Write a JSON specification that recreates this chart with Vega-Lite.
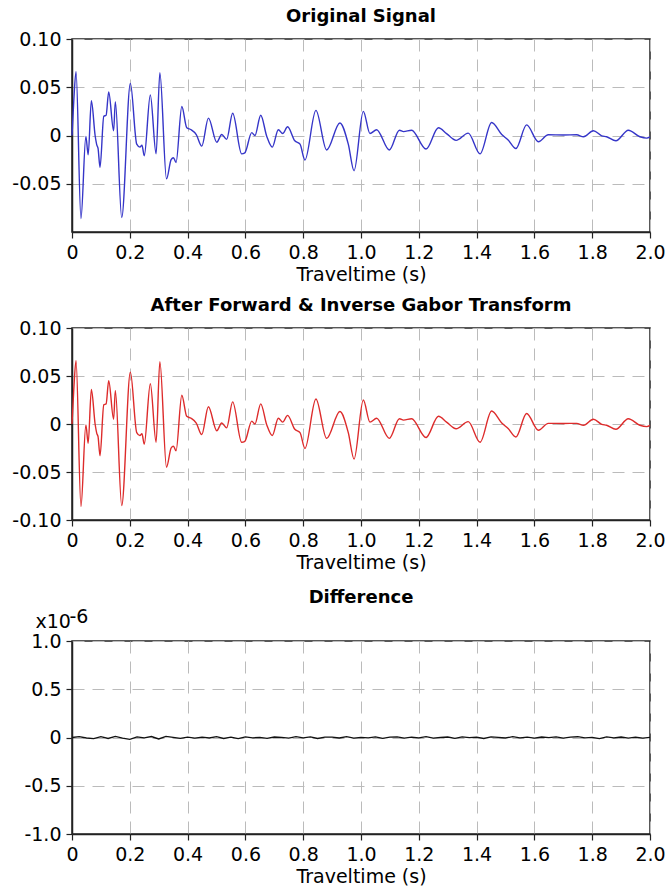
{
  "$schema": "https://vega.github.io/schema/vega-lite/v6.json",
  "padding": {"left": 11, "top": 7, "right": 0, "bottom": 0},
  "background": "white",
  "datasets": {
    "sig": [
      {"t": 0, "v": 0}, {"t": 0.006, "v": 0.035}, {"t": 0.014, "v": 0.066}, {"t": 0.031, "v": -0.086},
      {"t": 0.048, "v": -0.001}, {"t": 0.056, "v": -0.02}, {"t": 0.067, "v": 0.036}, {"t": 0.08, "v": 0.0},
      {"t": 0.086, "v": -0.01}, {"t": 0.09, "v": -0.013}, {"t": 0.097, "v": -0.033}, {"t": 0.11, "v": 0.02},
      {"t": 0.118, "v": 0.021}, {"t": 0.127, "v": 0.045}, {"t": 0.144, "v": 0.005}, {"t": 0.15, "v": 0.035},
      {"t": 0.172, "v": -0.085}, {"t": 0.202, "v": 0.054}, {"t": 0.224, "v": -0.009}, {"t": 0.235, "v": -0.012},
      {"t": 0.242, "v": -0.01}, {"t": 0.25, "v": -0.021}, {"t": 0.271, "v": 0.042}, {"t": 0.291, "v": -0.019},
      {"t": 0.304, "v": 0.065}, {"t": 0.327, "v": -0.045}, {"t": 0.343, "v": -0.025}, {"t": 0.351, "v": -0.023},
      {"t": 0.36, "v": -0.028}, {"t": 0.38, "v": 0.03}, {"t": 0.397, "v": 0.008}, {"t": 0.412, "v": 0.006},
      {"t": 0.43, "v": 0.001}, {"t": 0.449, "v": -0.011}, {"t": 0.472, "v": 0.018}, {"t": 0.501, "v": -0.007},
      {"t": 0.518, "v": 0.001}, {"t": 0.535, "v": -0.004}, {"t": 0.556, "v": 0.023}, {"t": 0.587, "v": -0.019},
      {"t": 0.598, "v": -0.018}, {"t": 0.622, "v": 0.003}, {"t": 0.633, "v": 0.0}, {"t": 0.653, "v": 0.021},
      {"t": 0.674, "v": -0.001}, {"t": 0.693, "v": -0.012}, {"t": 0.714, "v": 0.006}, {"t": 0.729, "v": 0.002},
      {"t": 0.746, "v": 0.009}, {"t": 0.771, "v": -0.0055}, {"t": 0.789, "v": -0.009}, {"t": 0.806, "v": -0.0255},
      {"t": 0.844, "v": 0.026}, {"t": 0.881, "v": -0.015}, {"t": 0.927, "v": 0.013}, {"t": 0.956, "v": -0.009},
      {"t": 0.976, "v": -0.0365}, {"t": 1.008, "v": 0.025}, {"t": 1.031, "v": 0.002}, {"t": 1.054, "v": 0.006},
      {"t": 1.098, "v": -0.015}, {"t": 1.133, "v": 0.0055}, {"t": 1.147, "v": 0.004}, {"t": 1.175, "v": 0.0055},
      {"t": 1.225, "v": -0.014}, {"t": 1.268, "v": 0.008}, {"t": 1.296, "v": 0.002}, {"t": 1.329, "v": -0.005},
      {"t": 1.371, "v": 0.0025}, {"t": 1.412, "v": -0.019}, {"t": 1.452, "v": 0.0135}, {"t": 1.487, "v": 0.001},
      {"t": 1.51, "v": -0.005}, {"t": 1.536, "v": -0.0135}, {"t": 1.573, "v": 0.011}, {"t": 1.614, "v": -0.0065},
      {"t": 1.648, "v": 0.0007}, {"t": 1.7, "v": 0.0005}, {"t": 1.746, "v": 0.0007}, {"t": 1.77, "v": -0.0013},
      {"t": 1.804, "v": 0.005}, {"t": 1.833, "v": -0.0003}, {"t": 1.85, "v": -0.0013}, {"t": 1.882, "v": -0.0055},
      {"t": 1.925, "v": 0.0055}, {"t": 1.965, "v": -0.0013}, {"t": 1.989, "v": -0.0027}, {"t": 2.0, "v": -0.0015}
    ],
    "diff": [
      {"t": 0, "v": 0.0}, {"t": 0.025, "v": 0.01}, {"t": 0.05, "v": -0.005}, {"t": 0.075, "v": -0.012},
      {"t": 0.1, "v": 0.008}, {"t": 0.125, "v": -0.01}, {"t": 0.15, "v": 0.012}, {"t": 0.175, "v": -0.006},
      {"t": 0.2, "v": -0.02}, {"t": 0.225, "v": 0.006}, {"t": 0.25, "v": -0.004}, {"t": 0.275, "v": 0.01},
      {"t": 0.3, "v": -0.015}, {"t": 0.325, "v": 0.012}, {"t": 0.35, "v": 0.002}, {"t": 0.375, "v": -0.008},
      {"t": 0.4, "v": 0.004}, {"t": 0.425, "v": -0.006}, {"t": 0.45, "v": 0.003}, {"t": 0.475, "v": -0.005},
      {"t": 0.5, "v": 0.008}, {"t": 0.525, "v": -0.01}, {"t": 0.55, "v": 0.004}, {"t": 0.575, "v": -0.012},
      {"t": 0.6, "v": 0.006}, {"t": 0.625, "v": -0.003}, {"t": 0.65, "v": 0.002}, {"t": 0.675, "v": -0.008},
      {"t": 0.7, "v": 0.005}, {"t": 0.725, "v": 0.002}, {"t": 0.75, "v": -0.006}, {"t": 0.775, "v": 0.008},
      {"t": 0.8, "v": -0.004}, {"t": 0.825, "v": 0.006}, {"t": 0.85, "v": -0.01}, {"t": 0.875, "v": 0.004},
      {"t": 0.9, "v": 0.003}, {"t": 0.925, "v": -0.005}, {"t": 0.95, "v": 0.009}, {"t": 0.975, "v": -0.007},
      {"t": 1.0, "v": 0.002}, {"t": 1.025, "v": -0.004}, {"t": 1.05, "v": 0.007}, {"t": 1.075, "v": -0.009},
      {"t": 1.1, "v": 0.003}, {"t": 1.125, "v": 0.006}, {"t": 1.15, "v": -0.006}, {"t": 1.175, "v": 0.004},
      {"t": 1.2, "v": -0.003}, {"t": 1.225, "v": 0.008}, {"t": 1.25, "v": -0.007}, {"t": 1.275, "v": 0.002},
      {"t": 1.3, "v": 0.005}, {"t": 1.325, "v": -0.008}, {"t": 1.35, "v": 0.006}, {"t": 1.375, "v": -0.002},
      {"t": 1.4, "v": 0.004}, {"t": 1.425, "v": -0.01}, {"t": 1.45, "v": 0.007}, {"t": 1.475, "v": 0.001},
      {"t": 1.5, "v": -0.005}, {"t": 1.525, "v": 0.008}, {"t": 1.55, "v": -0.003}, {"t": 1.575, "v": 0.004},
      {"t": 1.6, "v": -0.007}, {"t": 1.625, "v": 0.005}, {"t": 1.65, "v": -0.002}, {"t": 1.675, "v": 0.006},
      {"t": 1.7, "v": -0.006}, {"t": 1.725, "v": 0.003}, {"t": 1.75, "v": 0.008}, {"t": 1.775, "v": -0.004},
      {"t": 1.8, "v": 0.002}, {"t": 1.825, "v": -0.012}, {"t": 1.85, "v": 0.006}, {"t": 1.875, "v": -0.003},
      {"t": 1.9, "v": 0.005}, {"t": 1.925, "v": -0.007}, {"t": 1.95, "v": 0.003}, {"t": 1.975, "v": -0.006},
      {"t": 2.0, "v": 0.001}
    ]
  },
  "config": {
    "font": "DejaVu Sans",
    "view": {"stroke": "#222222", "strokeWidth": 1.5},
    "axis": {
      "labelFont": "DejaVu Sans", "labelFontSize": 19, "labelColor": "#000000",
      "titleFont": "DejaVu Sans", "titleFontSize": 19, "titleFontWeight": "normal", "titleColor": "#000000",
      "tickColor": "#222222", "tickSize": 6, "tickWidth": 1.2, "labelPadding": 5,
      "domainColor": "#222222", "domainWidth": 1.5,
      "gridColor": "#bbbbbb", "gridDash": [12, 8], "gridWidth": 1
    },
    "axisX": {"titlePadding": 3, "labelFlush": false},
    "title": {"font": "DejaVu Sans", "fontSize": 18, "fontWeight": "bold", "color": "#000000", "offset": 4}
  },
  "spacing": 15,
  "vconcat": [
    {
      "spacing": 11,
      "vconcat": [
        {
          "title": "Original Signal",
          "width": 578, "height": 193,
          "data": {"name": "sig"},
          "mark": {"type": "line", "interpolate": "monotone", "color": "#3535c8", "strokeWidth": 1.4},
          "encoding": {
            "x": {"field": "t", "type": "quantitative", "scale": {"domain": [0, 2], "nice": false},
              "axis": {"title": "Traveltime (s)", "values": [0, 0.2, 0.4, 0.6, 0.8, 1.0, 1.2, 1.4, 1.6, 1.8, 2.0],
                "labelExpr": "datum.value == 0 ? '0' : format(datum.value, '.1f')"}},
            "y": {"field": "v", "type": "quantitative", "scale": {"domain": [-0.1, 0.1], "nice": false},
              "axis": {"title": null, "values": [-0.05, 0, 0.05, 0.1],
                "labelExpr": "datum.value == 0 ? '0' : replace(format(datum.value, '.2f'), '\u2212', '-')"}}
          }
        },
        {
          "title": "After Forward & Inverse Gabor Transform",
          "width": 578, "height": 192,
          "data": {"name": "sig"},
          "mark": {"type": "line", "interpolate": "monotone", "color": "#dd2b2b", "strokeWidth": 1.4},
          "encoding": {
            "x": {"field": "t", "type": "quantitative", "scale": {"domain": [0, 2], "nice": false},
              "axis": {"title": "Traveltime (s)", "values": [0, 0.2, 0.4, 0.6, 0.8, 1.0, 1.2, 1.4, 1.6, 1.8, 2.0],
                "labelExpr": "datum.value == 0 ? '0' : format(datum.value, '.1f')"}},
            "y": {"field": "v", "type": "quantitative", "scale": {"domain": [-0.1, 0.1], "nice": false},
              "axis": {"title": null, "values": [-0.1, -0.05, 0, 0.05, 0.1],
                "labelExpr": "datum.value == 0 ? '0' : replace(format(datum.value, '.2f'), '\u2212', '-')"}}
          }
        }
      ]
    },
    {
      "title": {"text": "Difference", "offset": 0},
      "width": 578, "height": 193,
      "data": {"name": "diff"},
      "layer": [
        {
          "mark": {"type": "line", "color": "#111111", "strokeWidth": 1.3},
          "encoding": {
            "x": {"field": "t", "type": "quantitative", "scale": {"domain": [0, 2], "nice": false},
              "axis": {"title": "Traveltime (s)", "values": [0, 0.2, 0.4, 0.6, 0.8, 1.0, 1.2, 1.4, 1.6, 1.8, 2.0],
                "labelExpr": "datum.value == 0 ? '0' : format(datum.value, '.1f')"}},
            "y": {"field": "v", "type": "quantitative", "scale": {"domain": [-1, 1], "nice": false},
              "axis": {"title": "x10", "titleAngle": 0, "titleAlign": "left",
                "titleBaseline": "alphabetic", "titleX": -37, "titleY": -14,
                "values": [-1, -0.5, 0, 0.5, 1],
                "labelExpr": "datum.value == 0 ? '0' : replace(format(datum.value, '.1f'), '\u2212', '-')"}}
          }
        },
        {
          "mark": {"type": "line", "color": "#111111", "strokeWidth": 1.3, "opacity": 0},
          "encoding": {
            "x": {"field": "t", "type": "quantitative", "scale": {"domain": [0, 2], "nice": false}},
            "y": {"field": "v", "type": "quantitative", "scale": {"domain": [-1, 1], "nice": false},
              "axis": {"orient": "left", "title": "-6", "titleAngle": 0, "titleAlign": "left",
                "titleBaseline": "alphabetic", "titleX": -3, "titleY": -19,
                "labels": false, "ticks": false, "domain": false, "grid": false}}
          }
        }
      ],
      "resolve": {"scale": {"y": "independent"}}
    }
  ]
}
